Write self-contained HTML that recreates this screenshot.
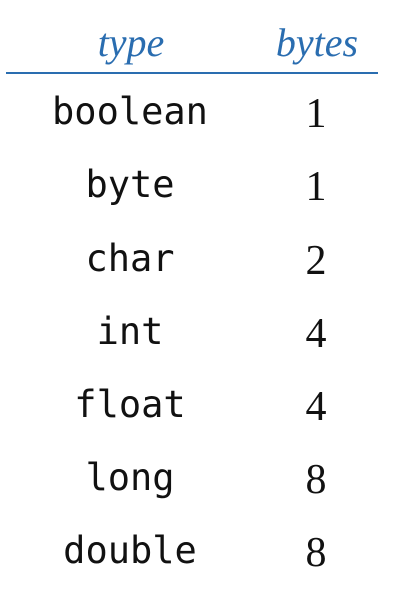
<!DOCTYPE html>
<html><head><style>body{margin:0;background:#fff}</style></head><body>
<svg width="400" height="600" xmlns="http://www.w3.org/2000/svg">
<g font-family="Liberation Serif, serif" font-style="italic" font-size="40" fill="#2a6db0" text-anchor="middle">
<text x="131" y="56">type</text>
<text x="317" y="56">bytes</text>
</g>
<rect x="6" y="72" width="372" height="2" fill="#2a6db0"/>
<g font-family="DejaVu Sans Mono, monospace" font-size="37" fill="#111" text-anchor="middle">
<text x="130" y="124">boolean</text>
<text x="130" y="197">byte</text>
<text x="130" y="271">char</text>
<text x="130" y="344">int</text>
<text x="130" y="417">float</text>
<text x="130" y="490">long</text>
<text x="130" y="563">double</text>
</g>
<g font-family="Liberation Serif, serif" font-size="42" fill="#111" text-anchor="middle">
<text x="316" y="127">1</text>
<text x="316" y="200">1</text>
<text x="316" y="274">2</text>
<text x="316" y="347">4</text>
<text x="316" y="420">4</text>
<text x="316" y="493">8</text>
<text x="316" y="566">8</text>
</g>
</svg>
</body></html>
